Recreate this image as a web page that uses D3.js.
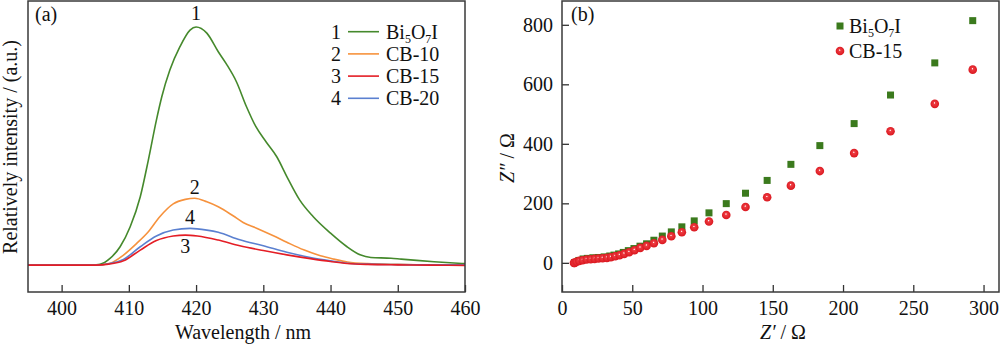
<!DOCTYPE html>
<meta charset="utf-8">
<script src="https://d3js.org/d3.v7.min.js"></script>
<style>
  body { margin: 0; background: #fff; }
  svg text { font-family: "Liberation Serif", "Times New Roman", serif; fill: #111; }
</style>
<div id="chart"></div>

<script>
// (a) photoluminescence spectra, one wavelength list per curve
const wlBi = [395, 400, 404, 405, 405.7, 407.2, 408.7, 410.2, 411.7, 412.9, 414.1, 414.9, 416.1, 417.6, 419.1, 420, 421.6, 423.3, 424.5, 426, 427.5, 428.9, 430.4, 432, 433.5, 435.4, 437.4, 440, 442.4, 444.4, 446, 449, 450.5, 455.4, 460];
const bi5o7i = [0, 0, 0, 1, 3, 28, 77, 161, 287, 441, 609, 707, 819, 917, 987, 1000, 974, 896, 845, 770, 665, 581, 518, 455, 372, 274, 204, 134, 78, 43, 32, 29, 25, 14, 6];

const wlCb10 = [395, 400, 405, 407.2, 409.2, 411.2, 412.9, 414.6, 416.6, 418.4, 419.8, 421.6, 423.3, 425.5, 427, 429, 431.5, 433.5, 436, 438.5, 440.5, 442.5, 445.5, 450, 455, 460];
const cb10 = [0, 0, 0, 8, 42, 92, 140, 203, 257, 276, 281, 266, 245, 207, 179, 155, 123, 96, 64, 39, 25, 13, 6, 3, 1, 0];

const wlCb15 = [395, 400, 405, 407, 409.2, 411.7, 414.1, 416.6, 418.4, 420.2, 423.3, 426.5, 430, 433.5, 437, 440, 442.5, 445.5, 450, 455, 460];
const cb15 = [0, 0, 0, 4, 18, 63, 103, 122, 126, 122, 105, 81, 61, 43, 27, 15, 7, 3, 1, 0, -1];

const wlCb20 = [395, 400, 405, 407, 409.2, 411.7, 414.1, 416.6, 419.1, 421.6, 423.3, 426.5, 430, 433.5, 437, 440, 442.5, 445.5, 450, 455, 460];
const cb20 = [0, 0, 0, 6, 24, 77, 122, 147, 154, 147, 138, 106, 81, 54, 32, 18, 8, 4, 2, 1, 1];

const specNames = ["Bi5O7I", "CB-10", "CB-15", "CB-20"];
const wlTicks = [400, 410, 420, 430, 440, 450, 460];

// (b) Nyquist plots
const zReBi = [9, 12, 15, 18, 22, 26, 30, 34, 37, 40.3, 43.6, 47.2, 51.2, 55.5, 60.2, 65.4, 71.4, 77.8, 85.3, 94.1, 104.6, 116.9, 130.6, 146, 162.9, 183.5, 207.9, 233.8, 265.3, 292.3];
const zImBi = [1, 8, 13, 15, 17, 18, 20, 23, 26, 30, 35, 41, 48, 56, 64, 76, 90, 104, 121, 141, 168, 199, 234, 277, 331, 394, 468, 564, 672, 814];
const zReCb = [8.5, 9, 10.4, 12.3, 14.7, 17.5, 20.4, 23.2, 26, 28.9, 32, 34.8, 37.9, 41, 44.3, 47.8, 51.6, 55.7, 60.2, 65.4, 71.4, 77.8, 85.3, 94.1, 104.6, 116.9, 130.6, 146, 162.9, 183.5, 207.9, 233.8, 265.3, 292.3];
const zImCb = [0, 0, 3.4, 6.7, 8.9, 11.2, 12.3, 13.4, 14.5, 15.6, 16.8, 19, 22.4, 25.7, 30.2, 35.8, 42.5, 50.3, 57, 66, 77.1, 89.5, 103, 119.7, 138.7, 161, 187.7, 220.2, 259.5, 308.4, 368.8, 442.5, 534.3, 649.3];
const zNames = ["Bi5O7I", "CB-15"];
const zxTicks = [0, 50, 100, 150, 200, 250, 300];
const zyTicks = [0, 200, 400, 600, 800];

const W = 1000, H = 345;
const svg = d3.select("#chart").append("svg")
  .attr("width", W).attr("height", H);

const colGreen = "#45892c", colOrange = "#f6923d", colRed = "#e41d25", colBlue = "#5b80d0";

// writes "Bi5O7I" with the digits as subscripts
function chemLabel(sel, name) {
  if (!name.startsWith("Bi")) { sel.text(name); return; }
  name.match(/[A-Za-z-]+|\d+/g).forEach(p => {
    const t = sel.append("tspan").text(p);
    if (/^\d+$/.test(p)) t.style("font-size", "12px").attr("baseline-shift", "-4");
  });
}

// ---------- panel (a) ----------
const xa = d3.scaleLinear().domain([395, 460]).range([28, 465]);
const ya = d3.scaleLinear().domain([-113, 1109]).range([292, 1]);
const ga = svg.append("g");

ga.append("g")
  .attr("transform", "translate(0,292)")
  .call(d3.axisBottom(xa).tickValues(wlTicks).tickSizeInner(-7).tickSizeOuter(0).tickPadding(9))
  .call(g => g.select(".domain").remove())
  .call(g => g.selectAll("line").attr("stroke", "#333").attr("stroke-width", 1.3))
  .call(g => g.selectAll("text").style("font-size", "20px").attr("font-family", null));

const spectra = [
  {x: wlBi, y: bi5o7i, color: colGreen, name: specNames[0], num: "1"},
  {x: wlCb10, y: cb10, color: colOrange, name: specNames[1], num: "2"},
  {x: wlCb15, y: cb15, color: colRed, name: specNames[2], num: "3"},
  {x: wlCb20, y: cb20, color: colBlue, name: specNames[3], num: "4"}
];

const line = d3.line().x(d => xa(d[0])).y(d => ya(d[1])).curve(d3.curveMonotoneX);
[spectra[0], spectra[1], spectra[3], spectra[2]].forEach(s => {
  ga.append("path")
    .datum(d3.zip(s.x, s.y))
    .attr("fill", "none")
    .attr("stroke", s.color)
    .attr("stroke-width", 1.6)
    .attr("d", line);
});

// curve numbers near the peaks
const numOffset = {"1": -7, "2": -4, "3": 18, "4": -4};
spectra.forEach(s => {
  const i = d3.maxIndex(s.y);
  ga.append("text")
    .attr("x", xa(s.x[i]))
    .attr("y", ya(s.y[i]) + numOffset[s.num])
    .attr("text-anchor", "middle")
    .style("font-size", "20px")
    .text(s.num);
});

ga.append("rect")
  .attr("x", 28).attr("y", 1).attr("width", 437).attr("height", 291)
  .attr("fill", "none").attr("stroke", "#3a3a3a").attr("stroke-width", 1.5);

// legend
spectra.forEach((s, i) => {
  const ly = 31.7 + i * 22.2;
  ga.append("text").attr("x", 341).attr("y", ly + 7).attr("text-anchor", "end")
    .style("font-size", "20px").text(s.num);
  ga.append("line").attr("x1", 348).attr("x2", 379).attr("y1", ly).attr("y2", ly)
    .attr("stroke", s.color).attr("stroke-width", 1.6);
  ga.append("text").attr("x", 386).attr("y", ly + 7).style("font-size", "20px")
    .call(chemLabel, s.name);
});

ga.append("text").attr("x", 35).attr("y", 21).style("font-size", "20px").text("(a)");
ga.append("text").attr("x", 243).attr("y", 339).attr("text-anchor", "middle")
  .style("font-size", "20px").text("Wavelength / nm");
ga.append("text").attr("transform", "translate(17,147) rotate(-90)").attr("text-anchor", "middle")
  .style("font-size", "20px").text("Relatively intensity / (a.u.)");

// ---------- panel (b) ----------
const xb = d3.scaleLinear().domain([0, 311]).range([562, 999]);
const yb = d3.scaleLinear().domain([-98, 880]).range([292, 1]);
const gb = svg.append("g");

gb.append("g")
  .attr("transform", "translate(0,292)")
  .call(d3.axisBottom(xb).tickValues(zxTicks).tickSizeInner(-7).tickSizeOuter(0).tickPadding(9))
  .call(g => g.select(".domain").remove())
  .call(g => g.selectAll("line").attr("stroke", "#333").attr("stroke-width", 1.3))
  .call(g => g.selectAll("text").style("font-size", "20px").attr("font-family", null));

gb.append("g")
  .attr("transform", "translate(562,0)")
  .call(d3.axisLeft(yb).tickValues(zyTicks).tickSizeInner(-7).tickSizeOuter(0).tickPadding(9))
  .call(g => g.select(".domain").remove())
  .call(g => g.selectAll("line").attr("stroke", "#333").attr("stroke-width", 1.3))
  .call(g => g.selectAll("text").style("font-size", "20px").attr("font-family", null));

// shaded red balls with a small highlight
const defs = svg.append("defs");
const grad = defs.append("radialGradient").attr("id", "ball")
  .attr("cx", "50%").attr("cy", "50%").attr("r", "55%").attr("fx", "46%").attr("fy", "38%");
grad.append("stop").attr("offset", "0%").attr("stop-color", "#ffffff");
grad.append("stop").attr("offset", "7%").attr("stop-color", "#fde4e4");
grad.append("stop").attr("offset", "22%").attr("stop-color", "#ee3c42");
grad.append("stop").attr("offset", "100%").attr("stop-color", "#d8141c");

const sq = 7;
gb.append("g").selectAll("rect")
  .data(d3.zip(zReBi, zImBi))
  .join("rect")
  .attr("x", d => xb(d[0]) - sq / 2)
  .attr("y", d => yb(d[1]) - sq / 2)
  .attr("width", sq).attr("height", sq)
  .attr("fill", "#3b7a1d");

gb.append("g").selectAll("circle")
  .data(d3.zip(zReCb, zImCb))
  .join("circle")
  .attr("cx", d => xb(d[0]))
  .attr("cy", d => yb(d[1]))
  .attr("r", 4.3)
  .attr("fill", "url(#ball)");

gb.append("rect")
  .attr("x", 562).attr("y", 1).attr("width", 437).attr("height", 291)
  .attr("fill", "none").attr("stroke", "#3a3a3a").attr("stroke-width", 1.5);

// legend
gb.append("rect").attr("x", 840 - sq / 2).attr("y", 26 - sq / 2).attr("width", sq).attr("height", sq)
  .attr("fill", "#3b7a1d");
gb.append("text").attr("x", 849).attr("y", 33).style("font-size", "20px").call(chemLabel, zNames[0]);
gb.append("circle").attr("cx", 840).attr("cy", 51).attr("r", 4.3).attr("fill", "url(#ball)");
gb.append("text").attr("x", 849).attr("y", 58).style("font-size", "20px").text(zNames[1]);

gb.append("text").attr("x", 571).attr("y", 21).style("font-size", "20px").text("(b)");

const xl = gb.append("text").attr("x", 783).attr("y", 339).attr("text-anchor", "middle").style("font-size", "20px");
xl.append("tspan").style("font-style", "italic").text("Z\u2032");
xl.append("tspan").text(" / \u03a9");

const yl = gb.append("text").attr("transform", "translate(514,158) rotate(-90)").attr("text-anchor", "middle").style("font-size", "20px");
yl.append("tspan").style("font-style", "italic").text("Z\u2033");
yl.append("tspan").text(" / \u03a9");
</script>
